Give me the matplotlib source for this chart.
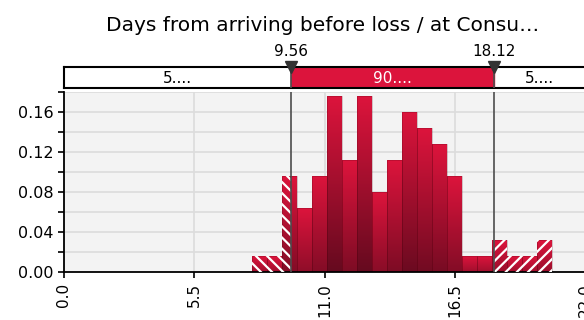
import numpy as np
import matplotlib
matplotlib.use("Agg")
import matplotlib.pyplot as plt
from matplotlib.colors import to_rgb
from matplotlib.ticker import MultipleLocator, FixedLocator, FormatStrFormatter

# --- data ---
TITLE = "Days from arriving before loss / at Consu\u2026"
bin_left = 7.92          # left edge of first bin
bin_width = 0.632
density = [0.016, 0.016, 0.096, 0.064, 0.096, 0.176, 0.112, 0.176, 0.080, 0.112,
           0.160, 0.144, 0.128, 0.096, 0.016, 0.016, 0.032, 0.016, 0.016, 0.032]
lower_cut = 9.56
upper_cut = 18.12
band_labels = ["5....", "90....", "5...."]
x_ticks = [0.0, 5.5, 11.0, 16.5, 22.0]
y_ticks = [0.00, 0.04, 0.08, 0.12, 0.16]

TOP = np.array(to_rgb("#dc143c"))
DARK = np.array(to_rgb("#660a1f"))
LINE = "#4d4d4d"
plt.rcParams["hatch.linewidth"] = 1.6

fig = plt.figure(figsize=(5.84, 3.2), dpi=100)
ax = fig.add_axes([0.109, 0.15, 0.894, 0.561])
band = fig.add_axes([0.109, 0.725, 0.894, 0.0666], sharex=ax)

ax.set_facecolor("#f3f3f3")
hmax = max(density)
for i, h in enumerate(density):
    x0 = bin_left + i * bin_width
    x1 = x0 + bin_width
    bot = TOP + (DARK - TOP) * (0.45 + 0.55 * h / hmax)
    t = np.linspace(0, 1, 64)[:, None]
    grad = (TOP * (1 - t) + bot * t)[:, None, :]
    ax.imshow(grad, extent=[x0, x1, 0, h], origin="upper", aspect="auto",
              interpolation="bilinear", zorder=2)
    # faint seam between neighbouring bars
    ax.bar(x0, h, width=bin_width, align="edge", fill=False,
           edgecolor=(0.3, 0, 0.05, 0.25), lw=0.6, zorder=2.5)
    # hatch the tails
    if x0 < lower_cut:
        ax.bar(x0, h, width=min(x1, lower_cut) - x0, align="edge", fill=False,
               hatch="\\\\\\", edgecolor="white", lw=0, zorder=3)
    if x1 > upper_cut:
        s = max(x0, upper_cut)
        ax.bar(s, h, width=x1 - s, align="edge", fill=False,
               hatch="///", edgecolor="white", lw=0, zorder=3)

for c in (lower_cut, upper_cut):
    ax.axvline(c, color=LINE, lw=1.2, zorder=4)
    band.axvline(c, color=LINE, lw=1.2, zorder=4)

ax.set_xlim(0, 22)
ax.set_ylim(0, 0.18)
ax.xaxis.set_major_locator(FixedLocator(x_ticks))
ax.xaxis.set_major_formatter(FormatStrFormatter("%.1f"))
ax.yaxis.set_major_locator(FixedLocator(y_ticks))
ax.yaxis.set_minor_locator(MultipleLocator(0.02))
ax.yaxis.set_major_formatter(FormatStrFormatter("%.2f"))
ax.tick_params(axis="x", labelrotation=90, labelsize=11, length=4, width=1.2, pad=4)
ax.tick_params(axis="y", which="both", labelsize=11.5, length=4, width=1.2)
ax.set_axisbelow(True)
ax.grid(True, axis="y", which="both", color="#dcdcdc", lw=1.2)
ax.grid(True, axis="x", which="major", color="#dcdcdc", lw=1.2)
for side in ("top", "right"):
    ax.spines[side].set_visible(False)
for side in ("left", "bottom"):
    ax.spines[side].set_linewidth(1.3)

# percentile band on top
band.set_ylim(0, 1)
band.axvspan(lower_cut, upper_cut, color="#dc143c", zorder=1)
band.tick_params(left=False, bottom=False, labelleft=False, labelbottom=False)
for s in band.spines.values():
    s.set_linewidth(1.5)
mids = [lower_cut / 2, (lower_cut + upper_cut) / 2, (upper_cut + 22) / 2]
for m, lab, col in zip(mids, band_labels, ["black", "white", "black"]):
    band.text(m, 0.45, lab, ha="center", va="center", fontsize=11, color=col)
for c in (lower_cut, upper_cut):
    band.plot([c], [1.0], marker="v", color="#333333", markersize=9,
              clip_on=False, zorder=6)
    band.annotate(f"{c:.2f}", (c, 1.0), xytext=(0, 8), textcoords="offset points",
                  ha="center", va="baseline", fontsize=11)

fig.text(0.553, 0.92, TITLE, ha="center", va="center", fontsize=14.5)

fig.savefig("out.png", dpi=100)
